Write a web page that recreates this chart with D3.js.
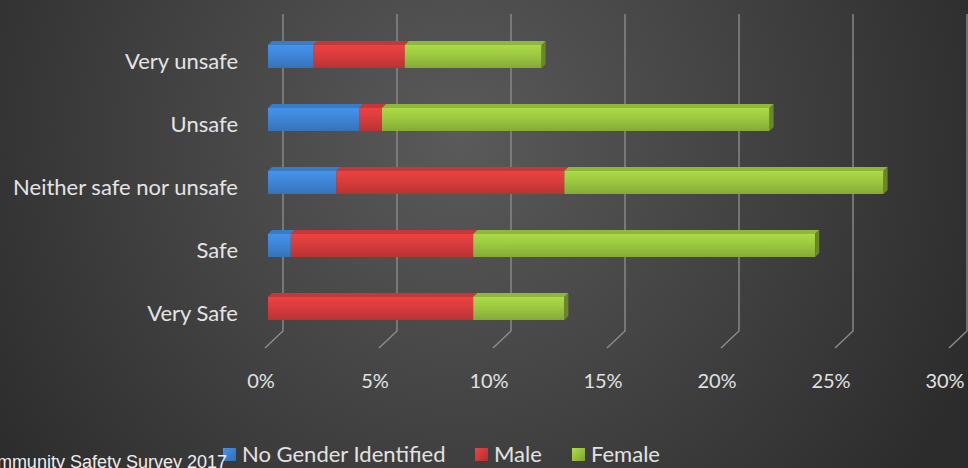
<!DOCTYPE html>
<html>
<head>
<meta charset="utf-8">
<script src="https://cdn.jsdelivr.net/npm/d3@7"></script>
<style>
  body { margin: 0; overflow: hidden; background: #3a3a3a; }
  text { font-family: Lato, "Open Sans", sans-serif; }
</style>
</head>
<body>
<svg></svg>
<script>
// data (percent of respondents)
const categories = ["Very unsafe", "Unsafe", "Neither safe nor unsafe", "Safe", "Very Safe"];
const noGender = [2, 4, 3, 1, 0];
const male = [4, 1, 10, 8, 9];
const female = [6, 17, 14, 15, 4];
const seriesNames = ["No Gender Identified", "Male", "Female"];
const tickValues = [0, 5, 10, 15, 20, 25, 30];
const sourceText = "Community Safety Survey 2017";

const width = 968;
const height = 468;

const colors = {
  "No Gender Identified": "#3f86d8",
  "Male": "#d83c3c",
  "Female": "#9cc840"
};

let svg = d3.select("svg").attr("width", width).attr("height", height);
let defs = svg.append("defs");

// background
let bg = defs.append("radialGradient")
  .attr("id", "bg")
  .attr("gradientUnits", "userSpaceOnUse")
  .attr("cx", 460).attr("cy", 140).attr("r", 560);
bg.append("stop").attr("offset", 0).attr("stop-color", "#5a5a5a");
bg.append("stop").attr("offset", 1).attr("stop-color", "#2c2c2c");
svg.append("rect").attr("width", width).attr("height", height).attr("fill", "url(#bg)");

// gradients per series
seriesNames.forEach((name, i) => {
  let c = d3.color(colors[name]);
  let g = defs.append("linearGradient").attr("id", "front" + i)
    .attr("x1", 0).attr("y1", 0).attr("x2", 0).attr("y2", 1);
  g.append("stop").attr("offset", 0).attr("stop-color", c.brighter(0.25));
  g.append("stop").attr("offset", 0.45).attr("stop-color", c);
  g.append("stop").attr("offset", 1).attr("stop-color", c.darker(0.45));
  let m = defs.append("linearGradient").attr("id", "mark" + i)
    .attr("x1", 0).attr("y1", 0).attr("x2", 1).attr("y2", 1);
  m.append("stop").attr("offset", 0).attr("stop-color", c.brighter(0.3));
  m.append("stop").attr("offset", 1).attr("stop-color", c.darker(0.6));
});

let blur = defs.append("filter").attr("id", "blur");
blur.append("feGaussianBlur").attr("stdDeviation", 1.5);

// scales: back plane (gridlines) and front plane (bars)
let xBack = d3.scaleLinear().domain([0, 30]).range([283, 967]);
let xFront = d3.scaleLinear().domain([0, 30]).range([268, 952]);
let y = d3.scalePoint().domain(categories).range([55, 307]);

const gridTop = 14, gridBottom = 331, floorDx = -18, floorDy = 17;
const depth = 4;

// gridlines with 3D floor
let grid = svg.append("g");
tickValues.forEach(t => {
  let x = xBack(t);
  grid.append("polyline")
    .attr("points", `${x},${gridTop} ${x},${gridBottom} ${x + floorDx},${gridBottom + floorDy}`)
    .attr("fill", "none")
    .attr("stroke", "#8c8c8c")
    .attr("stroke-width", 1.4);
});

// tick labels
svg.append("g").selectAll("text")
  .data(tickValues)
  .enter().append("text")
  .attr("x", d => xBack(d) - 22)
  .attr("y", 388)
  .attr("text-anchor", "middle")
  .attr("font-size", 20)
  .attr("fill", "#e2e2e2")
  .text(d => d + "%");

// shadow of the side wall
svg.append("line")
  .attr("x1", 270).attr("x2", 270)
  .attr("y1", 30).attr("y2", 328)
  .attr("stroke", "#1a1a1a").attr("stroke-width", 2.5)
  .attr("opacity", 0.6)
  .attr("filter", "url(#blur)");

// category labels
svg.append("g").selectAll("text")
  .data(categories)
  .enter().append("text")
  .attr("x", 238)
  .attr("y", d => y(d) + 14)
  .attr("text-anchor", "end")
  .attr("font-size", 22)
  .attr("fill", "#e4e4e4")
  .text(d => d);

// stacked bars
let table = categories.map((c, i) => ({
  category: c,
  "No Gender Identified": noGender[i],
  "Male": male[i],
  "Female": female[i]
}));
let stacked = d3.stack().keys(seriesNames)(table);

let bars = svg.append("g");
stacked.forEach((layer, si) => {
  let c = d3.color(colors[layer.key]);
  let g = bars.append("g");
  layer.forEach(d => {
    let cy = y(d.data.category);
    let x0 = xFront(d[0]), x1 = xFront(d[1]);
    if (x1 - x0 <= 0) return;
    let top = cy - 10, bottom = cy + 13;
    // top face
    g.append("polygon")
      .attr("points", `${x0},${top} ${x1},${top} ${x1 + depth},${top - depth} ${x0 + depth},${top - depth}`)
      .attr("fill", c.darker(0.25));
    // front face
    g.append("rect")
      .attr("x", x0).attr("y", top)
      .attr("width", x1 - x0).attr("height", bottom - top)
      .attr("fill", `url(#front${si})`);
    // right side face on the last segment
    if (si === seriesNames.length - 1) {
      g.append("polygon")
        .attr("points", `${x1},${top} ${x1 + depth},${top - depth} ${x1 + depth},${bottom - depth} ${x1},${bottom}`)
        .attr("fill", c.darker(1.1));
    }
  });
});

// legend
let legendItems = [
  { name: "No Gender Identified", x: 223 },
  { name: "Male", x: 475 },
  { name: "Female", x: 572 }
];
let legend = svg.append("g");
legendItems.forEach(item => {
  let i = seriesNames.indexOf(item.name);
  legend.append("rect")
    .attr("x", item.x).attr("y", 448)
    .attr("width", 13).attr("height", 13)
    .attr("fill", `url(#mark${i})`);
  legend.append("text")
    .attr("x", item.x + 19)
    .attr("y", 462)
    .attr("font-size", 22)
    .attr("fill", "#e2e2e2")
    .text(item.name);
});

// source note, cut off at the left edge
svg.append("text")
  .attr("x", 227)
  .attr("y", 468)
  .attr("text-anchor", "end")
  .style("font-family", "'Liberation Sans', Arial, sans-serif")
  .attr("font-size", 18)
  .attr("fill", "#eeeeee")
  .text(sourceText);
</script>
</body>
</html>
